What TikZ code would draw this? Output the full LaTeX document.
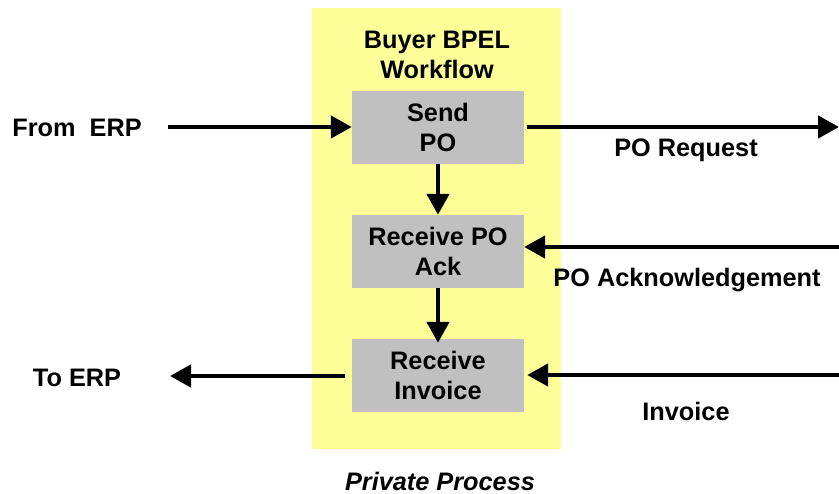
\documentclass[tikz,border=0pt]{standalone}
\usepackage{fontspec}
\setmainfont{Liberation Sans}
\usetikzlibrary{arrows.meta}
\definecolor{paleyellow}{HTML}{FFFF99}
\definecolor{boxgray}{HTML}{C0C0C0}
\tikzset{
  lbl/.style={font=\fontsize{25.3}{30.5}\selectfont\bfseries, align=center, inner sep=0pt},
  task/.style={fill=boxgray, minimum width=172pt, minimum height=73pt, inner sep=0pt, align=center, font=\fontsize{25.3}{30.5}\selectfont\bfseries},
  conn/.style={line width=4.5pt, -{Triangle[length=21pt,width=22pt]}}
}
\begin{document}
\begin{tikzpicture}[x=1pt,y=-1pt]
\useasboundingbox (0,0) rectangle (839,494);
\fill[paleyellow] (312,8) rectangle (561,449);
\node[lbl] (title) at (437,55) {Buyer BPEL\\Workflow};
\node[task] (send) at (438,127.5) {Send\\PO};
\node[task] (ack) at (438,251.5) {Receive PO\\Ack};
\node[task] (inv) at (438,375.5) {Receive\\Invoice};
\node[lbl, anchor=center] (from) at (77,128) {From\ \ ERP};
\node[lbl] (to) at (77,378) {To ERP};
\node[lbl] (req) at (686,150) {PO Request};
\node[lbl] (ackl) at (687,280) {PO Acknowledgement};
\node[lbl] (invl) at (686,411) {Invoice};
\node[lbl, font=\fontsize{25.3}{30.5}\selectfont\bfseries\itshape] (priv) at (440,481) {Private Process};
\coordinate (fromS) at (168,127);
\coordinate (reqE) at (839,127);
\coordinate (ackS) at (839,247);
\coordinate (invS) at (839,375);
\coordinate (toE) at (170,376);
\draw[conn] (fromS) -- (send.west |- fromS) ;
\draw[conn] ([xshift=3pt]send.east |- reqE) -- (reqE);
\draw[conn] (ackS) -- (ack.east |- ackS);
\draw[conn] (invS) -- ([xshift=3pt]inv.east |- invS);
\draw[conn] ([xshift=-7pt]inv.west |- toE) -- (toE);
\draw[conn] (send.south) -- (ack.north);
\draw[conn] (ack.south) -- ([yshift=-4pt]inv.north);
\end{tikzpicture}
\end{document}
